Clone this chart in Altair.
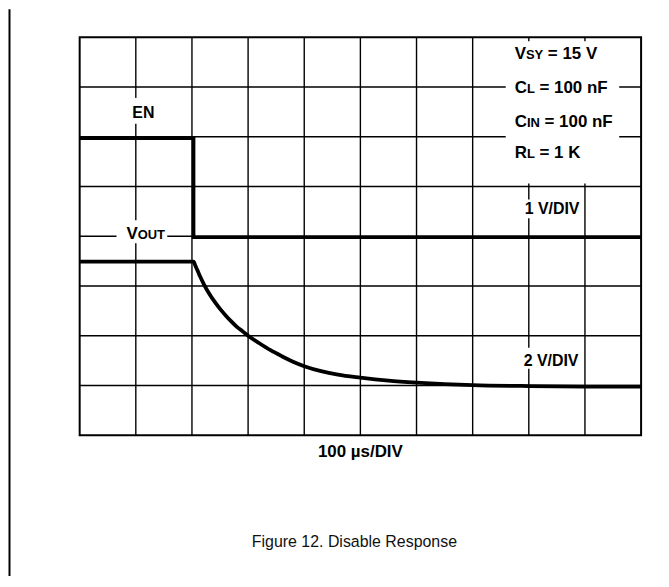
import altair as alt
import pandas as pd

# plot area in pixels (page coords: x 80..644, y 36..436)
W, H = 564, 400
XDIV, YDIV = 10, 8
X0, Y0 = 80, 436


def dx(px):
    return (px - X0) / (W / XDIV)


def dy(py):
    return (Y0 - py) / (H / YDIV)


# ---- traces (time in divisions of 100 us, voltage in divisions) ----
en_t = [0.0, 2.03, 2.03, 10.0]
en_v = [5.97, 5.97, 3.98, 3.98]

vout_t = [0.0, 2.03, 2.06, 2.10, 2.15, 2.22, 2.30, 2.40, 2.50, 2.60, 2.70,
          2.80, 2.90, 3.00, 3.20, 3.40, 3.60, 3.80, 4.00, 4.30, 4.60, 5.00,
          5.50, 6.00, 6.50, 7.00, 8.00, 9.00, 10.00]
vout_v = [3.49, 3.49, 3.41, 3.31, 3.18, 3.02, 2.86, 2.69, 2.54, 2.41, 2.29,
          2.18, 2.09, 2.00, 1.85, 1.71, 1.59, 1.48, 1.39, 1.29, 1.22, 1.16,
          1.10, 1.06, 1.03, 1.01, 0.99, 0.98, 0.98]

grid_x = list(range(1, 10))
grid_y = list(range(1, 8))

# ---- left-aligned annotation segments (text, size) ----
seg_text = ["V", "SY", "= 15 V",
            "C", "L", "= 100 nF",
            "C", "IN", "= 100 nF",
            "R", "L", "= 1 K",
            "V", "OUT",
            "1 V/DIV", "2 V/DIV"]
seg_size = [17, 13, 17, 17, 13, 17, 17, 13, 17, 17, 13, 17, 17, 13, 16, 16]
seg_px = [517, 528.3, 550.3, 517, 529.3, 541.9, 517, 529.3, 547, 517, 529.3, 541.9,
          127, 138.3, 527, 526]
seg_py = [58, 58, 58, 92, 92, 92, 126, 126, 126, 157, 157, 157, 239, 239, 214, 366]

# ---- centered labels ----
c_text = ["EN", "100 µs/DIV"]
c_size = [16, 17]
c_px = [144, 362]
c_py = [117, 458]

cap_text = ["Figure 12. Disable Response"]
cap_px = [356]
cap_py = [548]

# white boxes behind labels (pixel corners)
box_l = [508, 130, 117, 522, 522]
box_r = [622, 159, 168, 584, 584]
box_t = [40, 97, 220, 199, 348]
box_b = [183, 123, 243, 218, 369]

FONT = "Liberation Sans"
xs = alt.Scale(domain=[0, 10], nice=False, zero=False)
ys = alt.Scale(domain=[0, 8], nice=False, zero=False)


def X(f):
    return alt.X(f, type="quantitative", scale=xs, axis=None)


def Y(f):
    return alt.Y(f, type="quantitative", scale=ys, axis=None)


vgrid = alt.Chart(pd.DataFrame({"x": grid_x})).mark_rule(
    color="black", strokeWidth=1.4).encode(x=X("x"))
hgrid = alt.Chart(pd.DataFrame({"y": grid_y})).mark_rule(
    color="black", strokeWidth=1.4).encode(y=Y("y"))

boxes_df = pd.DataFrame({
    "x": [dx(v) for v in box_l], "x2": [dx(v) for v in box_r],
    "y": [dy(v) for v in box_t], "y2": [dy(v) for v in box_b],
})
boxes = alt.Chart(boxes_df).mark_rect(color="white").encode(
    x=X("x"), x2="x2", y=Y("y"), y2="y2")

en_df = pd.DataFrame({"t": en_t, "v": en_v, "o": list(range(len(en_t)))})
en_line = alt.Chart(en_df).mark_line(
    color="black", strokeWidth=3.5, strokeJoin="miter").encode(
    x=X("t"), y=Y("v"), order="o:Q")

vout_df = pd.DataFrame({"t": vout_t, "v": vout_v, "o": list(range(len(vout_t)))})
vout_line = alt.Chart(vout_df).mark_line(
    color="black", strokeWidth=3.8, strokeJoin="round",
    interpolate="monotone").encode(
    x=X("t"), y=Y("v"), order="o:Q")

left_df = pd.DataFrame({"x": [dx(9.5)], "y": [dy(8)], "y2": [dy(587)]})
left_line = alt.Chart(left_df).mark_rule(color="black", strokeWidth=2).encode(
    x=X("x"), y=Y("y"), y2="y2")

seg_df = pd.DataFrame({
    "text": seg_text, "size": seg_size,
    "x": [dx(v) for v in seg_px], "y": [dy(v) for v in seg_py],
})
segs = alt.Chart(seg_df).mark_text(
    font=FONT, fontWeight="bold", align="left", baseline="alphabetic",
    color="black").encode(
    x=X("x"), y=Y("y"), text="text:N", size=alt.Size("size:Q", scale=None))

c_df = pd.DataFrame({
    "text": c_text, "size": c_size,
    "x": [dx(v) for v in c_px], "y": [dy(v) for v in c_py],
})
cent = alt.Chart(c_df).mark_text(
    font=FONT, fontWeight="bold", align="center", baseline="alphabetic",
    color="black").encode(
    x=X("x"), y=Y("y"), text="text:N", size=alt.Size("size:Q", scale=None))

cap_df = pd.DataFrame({
    "text": cap_text,
    "x": [dx(v) for v in cap_px], "y": [dy(v) for v in cap_py],
})
cap = alt.Chart(cap_df).mark_text(
    font=FONT, fontSize=16, align="center", baseline="alphabetic",
    color="#111111").encode(x=X("x"), y=Y("y"), text="text:N")

chart = alt.layer(
    vgrid, hgrid, boxes, en_line, vout_line, left_line, segs, cent, cap
).properties(
    width=W, height=H,
    padding={"left": 72, "top": 28, "right": 20, "bottom": 140},
    autosize=alt.AutoSizeParams(type="none"),
    background="white",
).configure_view(stroke="black", strokeWidth=2)

chart.save("out.html", embed_options={"renderer": "svg", "actions": False})
